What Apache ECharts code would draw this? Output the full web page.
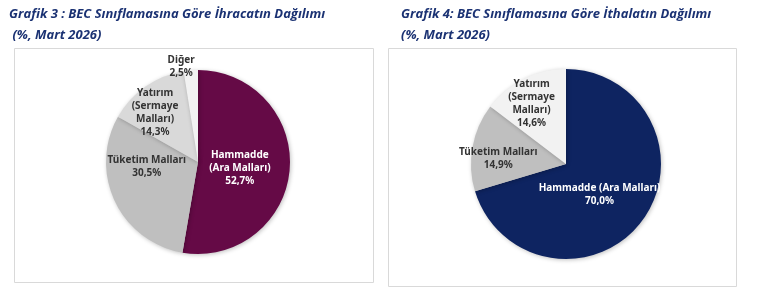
<!DOCTYPE html>
<html><head><meta charset="utf-8">
<script src="https://cdn.jsdelivr.net/npm/echarts@6/dist/echarts.min.js"></script>
<style>html,body{margin:0;padding:0;background:#fff}#c{width:770px;height:307px}</style>
</head><body><div id="c"></div>
<script>
const exportCategories = ["Hammadde\n(Ara Malları)", "Tüketim Malları", "Yatırım\n(Sermaye\nMalları)", "Diğer"];
const exportValues = [52.7, 30.5, 14.3, 2.5];
const importCategories = ["Hammadde (Ara Malları)", "Tüketim Malları", "Yatırım\n(Sermaye\nMalları)"];
const importValues = [70.0, 14.9, 14.6];
const exportColors = ["#650A46", "#BFBFBF", "#D9D9D9", "#F2F2F2"];
const importColors = ["#0E2461", "#BFBFBF", "#F2F2F2"];
const exportLabelColors = ["#fff", "#333", "#333", "#333"];
const importLabelColors = ["#fff", "#333", "#333"];
const exportOffsets = [[-7, 2], [-7, -16], [-15, -9], [-13, -46]];
const importOffsets = [[-7, 1], [-18, 4], [-12, -15]];

const fmt = v => v.toFixed(1).replace('.', ',') + '%';
function build(cats, vals, cols, lcols, offs) {
  return cats.map((c, i) => ({
    name: c, value: vals[i],
    itemStyle: { color: cols[i] },
    label: { color: lcols[i], offset: offs[i] }
  }));
}
const labelBase = {
  show: true, position: 'inside',
  formatter: p => p.name + '\n' + fmt(p.value),
  fontFamily: 'Noto Sans', fontWeight: 'bold', fontSize: 10, lineHeight: 13, align: 'center'
};
const chart = echarts.init(document.getElementById('c'), null, { renderer: 'canvas' });
const titleStyle = { fontFamily: 'Open Sans', fontStyle: 'italic', fontWeight: 'bold', fontSize: 13, color: '#1B3273', lineHeight: 21 };
chart.setOption({
  animation: false,
  title: [
    { text: 'Grafik 3 : BEC Sınıflamasına Göre İhracatın Dağılımı\n (%, Mart 2026)', left: 9, top: 4, padding: 0, textStyle: titleStyle },
    { text: 'Grafik 4: BEC Sınıflamasına Göre İthalatın Dağılımı\n(%, Mart 2026)', left: 401, top: 4, padding: 0, textStyle: titleStyle }
  ],
  graphic: [
    { type: 'rect', shape: { x: 14.5, y: 48.5, width: 359, height: 234 }, style: { fill: 'none', stroke: '#D9D9D9', lineWidth: 1 } },
    { type: 'rect', shape: { x: 388.5, y: 48.5, width: 348, height: 238 }, style: { fill: 'none', stroke: '#D9D9D9', lineWidth: 1 } }
  ],
  series: [
    {
      type: 'pie', center: [198, 162], radius: 92, startAngle: 90, clockwise: true,
      label: labelBase, labelLine: { show: false },
      itemStyle: { shadowBlur: 4, shadowColor: 'rgba(0,0,0,0.25)', shadowOffsetX: 1, shadowOffsetY: 1 },
      emphasis: { disabled: true },
      data: build(exportCategories, exportValues, exportColors, exportLabelColors, exportOffsets)
    },
    {
      type: 'pie', center: [566, 164], radius: 95, startAngle: 90, clockwise: true,
      label: labelBase, labelLine: { show: false },
      itemStyle: { shadowBlur: 4, shadowColor: 'rgba(0,0,0,0.25)', shadowOffsetX: 1, shadowOffsetY: 1 },
      emphasis: { disabled: true },
      data: build(importCategories, importValues, importColors, importLabelColors, importOffsets)
    }
  ]
});
</script></body></html>
